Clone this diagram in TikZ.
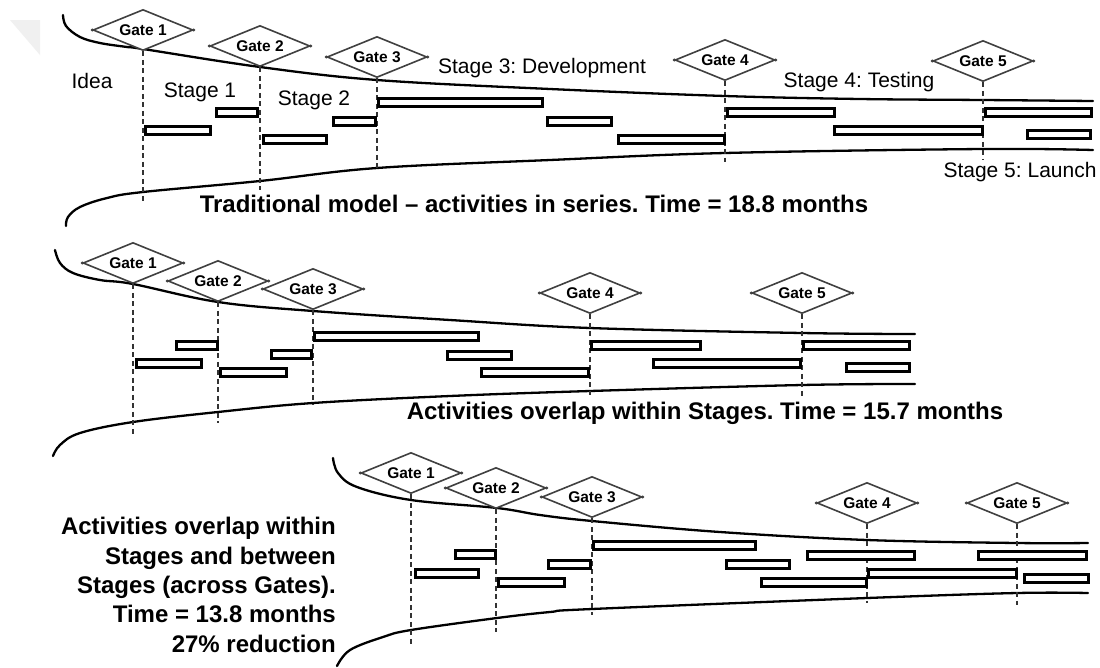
\documentclass[tikz,border=0pt]{standalone}
\usepackage{fontspec}
\setmainfont{Liberation Sans}
\usetikzlibrary{shapes.geometric}

% activity bar: left x, right x, top y (outer edges)
\newcommand\actbar[3]{\draw[actbar] ({#1+1.4},{#3+1.4}) rectangle ({#2-1.4},{#3+9.3});}

\tikzset{
  funnel/.style={line width=2.3pt, line cap=round},
  gate/.style={shape=diamond, aspect=2.5, draw=black!75, line width=1.6pt, fill=white,
    minimum width=100pt, minimum height=41pt, inner sep=0pt,
    font=\fontsize{15.5}{16}\selectfont\bfseries},
  gatetip/.style={fill=black!75},
  gateline/.style={draw=black!80, line width=1.1pt, dash pattern=on 5pt off 3.5pt},
  actbar/.style={draw=black, line width=2.8pt, fill=white},
  stagelbl/.style={font=\fontsize{21}{24}\selectfont, inner sep=0pt},
  caption/.style={font=\fontsize{24}{29.3}\selectfont\bfseries, inner sep=0pt},
}

\begin{document}
\frenchspacing
\begin{tikzpicture}[x=1pt, y=-1pt]
\useasboundingbox (0,0) rectangle (1100,667);
\fill[white] (0,0) rectangle (1100,667);
\fill[black!6] (10,20) -- (40,20) -- (40,55) -- cycle;

% ---------- traditional model ----------
\draw[funnel] plot[smooth, tension=0.6] coordinates {(63,15) (66,26) (80,37) (100,43) (127,47) (143,49) (260,67) (377,80) (550,89) (725,96) (860,99) (983,100) (1093,101)};
\draw[funnel] plot[smooth, tension=0.6] coordinates {(66,226) (68,217) (80,207) (107,198) (143,192) (260,181) (377,168) (550,160) (725,153) (983,149) (1093,150)};

\node[gate] (t1) at (143,30) {Gate 1};
\node[gate] (t2) at (260,46) {Gate 2};
\node[gate] (t3) at (377,57) {Gate 3};
\node[gate] (t4) at (725,60) {Gate 4};
\node[gate] (t5) at (983,61) {Gate 5};
\coordinate (te1) at (143,203);
\coordinate (te2) at (260,190);
\coordinate (te3) at (377,170);
\coordinate (te4) at (725,162);
\coordinate (te5) at (983,160);
\foreach \i in {1,...,5} {
  \draw[gateline] (t\i.south) -- (te\i);
  \fill[gatetip] (t\i.west) circle (1.6pt) (t\i.east) circle (1.6pt);
}

\actbar{144}{212}{125}
\actbar{215}{259}{107}
\actbar{262}{328}{134}
\actbar{332}{377}{116}
\actbar{377}{544}{97}
\actbar{546}{613}{116}
\actbar{617}{726}{134}
\actbar{726}{836}{107}
\actbar{833}{984}{125}
\actbar{984}{1093}{107}
\actbar{1026}{1092}{129}

\node[stagelbl] (idea) at (92,81) {Idea};
\node[stagelbl] (s1) at (200,92) {Stage 1};
\node[stagelbl] (s2) at (314,100) {Stage 2};
\node[stagelbl] (s3) at (542,68) {Stage 3: Development};
\node[stagelbl] (s4) at (859,82) {Stage 4: Testing};
\node[stagelbl] (s5) at (1020,172) {Stage 5: Launch};
\node[caption] (cap1) at (534,204) {Traditional model -- activities in series. Time = 18.8 months};

% ---------- overlap within stages ----------
\draw[funnel] plot[smooth, tension=0.6] coordinates {(55,250) (60,263) (73,273) (100,280) (133,284) (218,302) (313,311) (450,320) (590,328) (802,333) (915,334)};
\draw[funnel] plot[smooth, tension=0.6] coordinates {(53,456) (60,445) (80,433) (133,422) (218,412) (313,403) (450,396) (590,391) (802,385) (915,384)};

\node[gate] (m1) at (133,263) {Gate 1};
\node[gate] (m2) at (218,281) {Gate 2};
\node[gate] (m3) at (313,289) {Gate 3};
\node[gate] (m4) at (590,293) {Gate 4};
\node[gate] (m5) at (802,293) {Gate 5};
\coordinate (me1) at (133,437);
\coordinate (me2) at (218,423);
\coordinate (me3) at (313,405);
\coordinate (me4) at (590,395);
\coordinate (me5) at (802,396);
\foreach \i in {1,...,5} {
  \draw[gateline] (m\i.south) -- (me\i);
  \fill[gatetip] (m\i.west) circle (1.6pt) (m\i.east) circle (1.6pt);
}

\actbar{135}{203}{358}
\actbar{175}{219}{340}
\actbar{219}{288}{367}
\actbar{270}{313}{349}
\actbar{313}{480}{331}
\actbar{446}{513}{350}
\actbar{480}{590}{367}
\actbar{590}{702}{340}
\actbar{652}{802}{358}
\actbar{802}{911}{340}
\actbar{845}{911}{362}

\node[caption] (cap2) at (705,413) {Activities overlap within Stages. Time = 15.7 months};

% ---------- overlap within and between stages ----------
\draw[funnel] plot[smooth, tension=0.6] coordinates {(333,458) (338,473) (357,487) (411,500) (497,508) (540,515) (592,521) (720,532) (867,540) (1017,543) (1088,543)};
\draw[funnel] plot[smooth, tension=0.6] coordinates {(337,666) (350,650) (383,637) (411,630) (497,618) (550,612) (592,609) (867,598) (1017,593) (1088,593)};

\node[gate] (b1) at (411,473) {Gate 1};
\node[gate] (b2) at (496,488) {Gate 2};
\node[gate] (b3) at (592,497) {Gate 3};
\node[gate] (b4) at (867,503) {Gate 4};
\node[gate] (b5) at (1017,503) {Gate 5};
\coordinate (be1) at (411,645);
\coordinate (be2) at (496,632);
\coordinate (be3) at (592,615);
\coordinate (be4) at (867,603);
\coordinate (be5) at (1017,605);
\foreach \i in {1,...,5} {
  \draw[gateline] (b\i.south) -- (be\i);
  \fill[gatetip] (b\i.west) circle (1.6pt) (b\i.east) circle (1.6pt);
}

\actbar{414}{480}{568}
\actbar{454}{497}{549}
\actbar{497}{566}{577}
\actbar{547}{592}{559}
\actbar{592}{757}{540}
\actbar{725}{791}{559}
\actbar{760}{868}{577}
\actbar{806}{916}{550}
\actbar{867}{1018}{568}
\actbar{977}{1088}{550}
\actbar{1023}{1090}{573}

\node[caption, align=right, anchor=east] (cap3) at (336,585) {Activities overlap within\\Stages and between\\Stages (across Gates).\\Time = 13.8 months\\27\% reduction};
\end{tikzpicture}
\end{document}
